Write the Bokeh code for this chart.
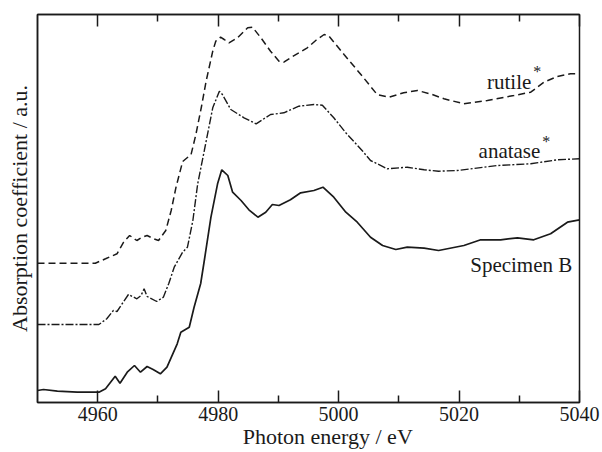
from bokeh.plotting import figure
from bokeh.models import Range1d, FixedTicker, LinearAxis, Label
from bokeh.embed import file_html
from bokeh.resources import INLINE

# ---- data (photon energy in eV, absorption in arbitrary units) ----
rutile_e = [4950, 4959.6, 4961.3, 4963.2, 4964.3, 4965.3, 4966.5, 4967.3, 4968.2, 4969.2,
            4970.1, 4971.3, 4972.2, 4973.0, 4974.1, 4975.5, 4976.3, 4977.2, 4978.0, 4979.1,
            4979.6, 4980.4, 4981.0, 4981.8, 4983.2, 4984.9, 4985.7, 4987.1, 4988.7, 4990.1,
            4990.9, 4992.0, 4993.4, 4994.8, 4996.2, 4997.6, 4998.4, 5000.9, 5003.7, 5006.4,
            5008.4, 5010.8, 5013.1, 5015.3, 5017.5, 5020.8, 5024.7, 5029.1, 5031.9, 5034.1,
            5036.3, 5038.5, 5040]
rutile_a = [139.3, 139.3, 143.7, 148.7, 160.3, 167, 162, 165, 167, 164,
            162, 172, 192, 215.3, 241, 248, 268, 295, 321.3, 351.3,
            361.3, 365.3, 363, 359.7, 364.7, 374.7, 375.3, 364.7, 351.3, 341.3,
            340.3, 344.7, 349.7, 354.7, 362, 368, 366.3, 348, 328, 308,
            305.3, 309.7, 312, 308.5, 303.7, 298.7, 302, 307, 310.3, 320.3,
            326, 328.7, 328.7]

anatase_e = [4950, 4960.2, 4961.5, 4962.6, 4963.2, 4964.2, 4965.1, 4966.5, 4967.2, 4967.7,
             4968.2, 4969.8, 4970.9, 4971.8, 4972.7, 4974.1, 4974.9, 4975.8, 4976.6, 4977.7,
             4979.1, 4980.2, 4980.7, 4982.1, 4984.3, 4986.3, 4988.7, 4990.9, 4993.4, 4995.9,
             4997.3, 4999.2, 5001.2, 5003.9, 5005.3, 5008.1, 5011.4, 5014.2, 5016.6, 5019.7,
             5026.3, 5031.9, 5036.3, 5040]
anatase_a = [78, 78, 83.7, 92, 91, 100, 108, 103.7, 107, 113.7,
             106, 101, 105.3, 119, 135.3, 150.3, 155.3, 182, 218.7, 252,
             294.7, 311.3, 308, 293, 284.7, 278.7, 288, 289.7, 296.3, 298,
             297.3, 284.7, 269.7, 252, 242, 233.7, 235.3, 232.7, 231.3, 232,
             237, 238.7, 242.7, 243.7]

specB_e = [4950, 4951, 4953.3, 4956.6, 4960.2, 4961.3, 4962.9, 4963.7, 4964.9, 4966.1,
           4967.1, 4968.2, 4969.2, 4970.4, 4971.5, 4973.2, 4973.8, 4975.2, 4976.0, 4977.1,
           4977.7, 4978.8, 4979.9, 4980.6, 4981.6, 4982.4, 4983.8, 4985.1, 4986.6, 4987.9,
           4989.0, 4990.1, 4992.0, 4993.7, 4995.9, 4997.4, 4999.2, 5001.2, 5003.1, 5005.3,
           5007.3, 5009.5, 5011.4, 5014.2, 5016.6, 5020.8, 5023.6, 5026.9, 5029.7, 5032.4,
           5035.2, 5038.0, 5040]
specB_a = [12, 13, 11.3, 10.3, 10.3, 13.7, 26.3, 19.3, 30.3, 37,
           30.3, 36, 33, 28.7, 35.3, 58.7, 70.3, 75.3, 95.3, 119,
           142, 185.3, 218.7, 232.7, 227, 210.3, 202, 192.7, 185.3, 190.3,
           198, 197, 202.7, 209.7, 212, 215.3, 205.3, 190.3, 180.3, 165.3,
           157, 153, 155.3, 154.3, 152, 157, 162.7, 162.7, 164.7, 162.7,
           168.7, 180.3, 182.7]

major_ticks = [4960, 4980, 5000, 5020, 5040]
minor_ticks = [4970, 4990, 5010, 5030]
x_title = "Photon energy / eV"
y_title = "Absorption coefficient / a.u."

FONT = "Liberation Serif"
INK = "#1a1a1a"

p = figure(width=602, height=452, output_backend="svg", toolbar_location=None,
           x_range=Range1d(4950, 5040), y_range=Range1d(0, 388),
           min_border_left=37, min_border_right=23, min_border_top=14, min_border_bottom=50)
p.grid.visible = False
p.background_fill_color = "white"
p.border_fill_color = "white"
p.outline_line_color = INK
p.outline_line_width = 1.5

ticker = FixedTicker(ticks=major_ticks, minor_ticks=minor_ticks)
xa = p.xaxis[0]
xa.ticker = ticker
xa.axis_line_color = INK
xa.axis_line_width = 1.5
xa.major_tick_in = 12
xa.major_tick_out = 0
xa.minor_tick_in = 7
xa.minor_tick_out = 0
xa.major_tick_line_color = INK
xa.minor_tick_line_color = INK
xa.major_tick_line_width = 1.5
xa.minor_tick_line_width = 1.5
xa.major_label_standoff = 4
xa.major_label_text_font = FONT
xa.major_label_text_font_size = "20px"
xa.major_label_text_color = INK
xa.axis_label = "\u00a0" * 7 + x_title
xa.axis_label_standoff = 0
xa.axis_label_text_font = FONT
xa.axis_label_text_font_size = "22px"
xa.axis_label_text_font_style = "normal"
xa.axis_label_text_color = INK

ya = p.yaxis[0]
ya.ticker = FixedTicker(ticks=[], minor_ticks=[])
ya.axis_line_color = INK
ya.axis_line_width = 1.5
ya.major_label_standoff = 0
ya.major_tick_in = 0
ya.major_tick_out = 0
ya.minor_tick_in = 0
ya.minor_tick_out = 0
ya.axis_label = y_title
ya.axis_label_standoff = 6
ya.axis_label_text_font = FONT
ya.axis_label_text_font_size = "22px"
ya.axis_label_text_font_style = "normal"
ya.axis_label_text_color = INK

top = LinearAxis(ticker=ticker, major_tick_in=12, major_tick_out=0,
                 minor_tick_in=7, minor_tick_out=0,
                 major_label_overrides={t: "" for t in major_ticks},
                 major_label_standoff=0,
                 axis_line_color=INK, axis_line_width=1.5,
                 major_tick_line_color=INK, minor_tick_line_color=INK,
                 major_tick_line_width=1.5, minor_tick_line_width=1.5)
p.add_layout(top, "above")

p.line(rutile_e, rutile_a, line_color=INK, line_width=1.5, line_dash="7 4")
p.line(anatase_e, anatase_a, line_color=INK, line_width=1.4, line_dash="8 2 2 2")
p.line(specB_e, specB_a, line_color=INK, line_width=1.7)

def lab(x, y, t, size, align="right", xo=0, yo=0):
    p.add_layout(Label(x=x, y=y, text=t, text_font=FONT, text_font_size=size,
                       text_color=INK, text_align=align, text_baseline="alphabetic",
                       x_offset=xo, y_offset=yo))

lab(5032.0, 314.7, "rutile", "21px", yo=6)
lab(5032.0, 314.7, "*", "16px", align="left", xo=2, yo=16)
lab(5033.5, 245.3, "anatase", "21px", yo=6)
lab(5033.5, 245.3, "*", "16px", align="left", xo=2, yo=16)
lab(5038.8, 131.3, "Specimen B", "21px", yo=6)

open("out.html", "w").write(file_html(p, INLINE))
